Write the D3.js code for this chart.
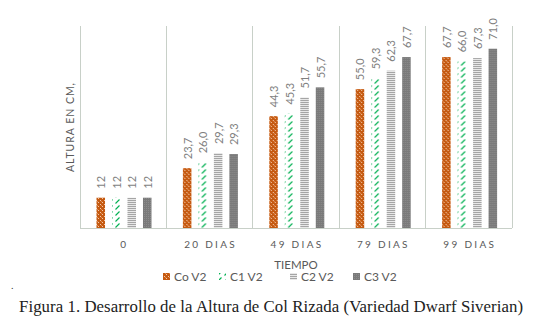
<!DOCTYPE html>
<html><head><meta charset="utf-8">
<script src="https://cdn.jsdelivr.net/npm/d3@7"></script>
<style>body{margin:0;background:#fff}svg{display:block}</style>
</head><body>
<svg id="c" width="537" height="323"></svg>
<script>
const categories = ["0", "20 DIAS", "49 DIAS", "79 DIAS", "99 DIAS"];
const seriesNames = ["Co V2", "C1 V2", "C2 V2", "C3 V2"];
const coV2 = [12, 23.7, 44.3, 55.0, 67.7];
const c1V2 = [12, 26.0, 45.3, 59.3, 66.0];
const c2V2 = [12, 29.7, 51.7, 62.3, 67.3];
const c3V2 = [12, 29.3, 55.7, 67.7, 71.0];
const seriesValues = [coV2, c1V2, c2V2, c3V2];
const yMax = 80;

(function () {
const svg = d3.select("#c");
const defs = svg.append("defs");
const font = "Lato, 'Open Sans', sans-serif";

// patterns
const pOr = defs.append("pattern").attr("id","pOr").attr("patternUnits","userSpaceOnUse").attr("width",4).attr("height",4);
pOr.append("rect").attr("width",4).attr("height",4).attr("fill","#c55a11");
pOr.append("rect").attr("x",0).attr("y",0).attr("width",1).attr("height",1).attr("fill","#f4c9a8");
pOr.append("rect").attr("x",2).attr("y",2).attr("width",1).attr("height",1).attr("fill","#f4c9a8");
pOr.append("rect").attr("x",1).attr("y",1).attr("width",1).attr("height",1).attr("fill","#e08a50");
const pGr = defs.append("pattern").attr("id","pGr").attr("patternUnits","userSpaceOnUse").attr("width",7).attr("height",6);
pGr.append("rect").attr("width",7).attr("height",6).attr("fill","#ffffff");
pGr.append("path").attr("d","M0.5,5.5 L4.5,1.5").attr("stroke","#00b050").attr("stroke-width",1.1).attr("fill","none");
const pG2 = defs.append("pattern").attr("id","pG2").attr("patternUnits","userSpaceOnUse").attr("width",4).attr("height",2);
pG2.append("rect").attr("width",4).attr("height",2).attr("fill","#e8e8e8");
pG2.append("rect").attr("width",4).attr("height",1).attr("fill","#a5a5a5");
const pDk = defs.append("pattern").attr("id","pDk").attr("patternUnits","userSpaceOnUse").attr("width",2).attr("height",2);
pDk.append("rect").attr("width",2).attr("height",2).attr("fill","#7a7a7a");
pDk.append("rect").attr("width",1).attr("height",1).attr("fill","#8c8c8c");
const fills = ["url(#pOr)","url(#pGr)","url(#pG2)","url(#pDk)"];

const pLeft = 80, pRight = 512, pTop = 26, pBottom = 228;
const x0 = d3.scaleBand().domain(categories).range([pLeft, pRight]).padding(0);
const x1 = d3.scaleBand().domain(seriesNames).range([16.5, 71.5]).paddingInner(0.45);
const y = d3.scaleLinear().domain([0, yMax]).range([pBottom, pTop]);

// vertical gridlines
const edges = categories.map(c => x0(c)).concat([pRight]);
svg.append("g").selectAll("line").data(edges).join("line")
  .attr("x1", d => d).attr("x2", d => d).attr("y1", pTop).attr("y2", pBottom)
  .attr("stroke", "#c8d0c8").attr("stroke-width", 1).attr("shape-rendering","crispEdges");
svg.append("line").attr("x1", pLeft).attr("x2", pRight).attr("y1", pBottom).attr("y2", pBottom)
  .attr("stroke", "#c8d0c8").attr("shape-rendering","crispEdges");

const fmt = (v, ci) => ci === 0 ? d3.format("d")(v) : d3.format(".1f")(v).replace(".", ",");

categories.forEach((cat, ci) => {
  const g = svg.append("g").attr("transform", `translate(${x0(cat)},0)`);
  seriesNames.forEach((s, si) => {
    const v = seriesValues[si][ci];
    g.append("rect").attr("x", x1(s)).attr("y", y(v)).attr("width", x1.bandwidth()).attr("height", pBottom - y(v))
      .attr("fill", fills[si]);
    const cx = x1(s) + x1.bandwidth() / 2;
    g.append("text").attr("transform", `translate(${cx},${y(v) - 9}) rotate(-90)`)
      .attr("dominant-baseline", "central").attr("text-anchor", "start")
      .attr("font-family", font).attr("font-size", 11).attr("fill", "#7f7f7f")
      .text(fmt(v, ci));
  });
});

// x axis labels
svg.append("g").selectAll("text").data(categories).join("text")
  .attr("x", d => x0(d) + x0.bandwidth() / 2 + 1).attr("y", 248)
  .attr("text-anchor", "middle").attr("font-family", font).attr("font-size", 10)
  .attr("letter-spacing", 2.3).attr("fill", "#595959").text(d => d);

// axis titles
svg.append("text").attr("transform", "translate(74,172) rotate(-90)").attr("text-anchor", "start")
  .attr("font-family", font).attr("font-size", 10.5).attr("textLength", 89).attr("lengthAdjust", "spacing")
  .attr("fill", "#595959").text("ALTURA EN CM,");
svg.append("text").attr("x", 296).attr("y", 269).attr("text-anchor", "middle")
  .attr("font-family", font).attr("font-size", 11.5).attr("fill", "#595959").text("TIEMPO");

// legend
const legX = [163, 219, 290, 353];
const lg = svg.append("g");
seriesNames.forEach((s, si) => {
  lg.append("rect").attr("x", legX[si]).attr("y", 273).attr("width", 7).attr("height", 7).attr("fill", fills[si]);
  lg.append("text").attr("x", legX[si] + 11).attr("y", 280.5).attr("font-family", font).attr("font-size", 12)
    .attr("fill", "#595959").text(s);
});

svg.append("text").attr("x", 11).attr("y", 289).attr("font-family", "Liberation Serif").attr("font-size", 10).attr("fill", "#333").text(".");
svg.append("text").attr("x", 19).attr("y", 312).attr("text-anchor", "start")
  .attr("font-family", "'Liberation Serif', serif").attr("font-size", 16.8).attr("fill", "#222")
  .attr("textLength", 504).attr("lengthAdjust", "spacing")
  .text("Figura 1. Desarrollo de la Altura de Col Rizada (Variedad Dwarf Siverian)");
})();
</script>
</body></html>
